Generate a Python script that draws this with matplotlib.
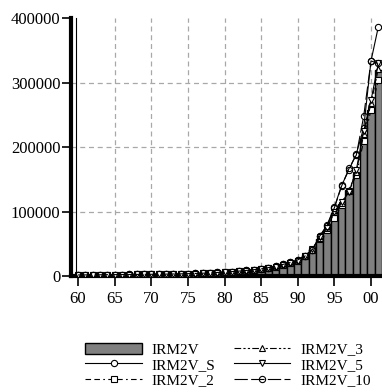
import matplotlib
matplotlib.use('Agg')
import matplotlib.pyplot as plt
import numpy as np

plt.rcParams['font.family'] = ['Liberation Serif', 'DejaVu Serif']

#%% Data
years = list(range(1960, 2002))

irm2v = [1500, 1600, 1700, 1800, 1900, 2000, 2100, 2200, 2300, 2400,
         2500, 2600, 2800, 3000, 3200, 3500, 3800, 4200, 4700, 5200,
         5800, 6500, 7300, 8200, 9200, 10500, 12000, 14000, 16500, 19500,
         22000, 30000, 40000, 57000, 70000, 98000, 112000, 134000, 158000, 212000,
         258000, 320000]
irm2v_s = [1600, 1700, 1800, 1900, 2000, 2100, 2200, 2300, 2400, 2500,
           2600, 2700, 2900, 3100, 3300, 3600, 3900, 4300, 4800, 5400,
           6000, 6800, 7600, 8600, 9800, 11000, 13000, 15000, 18000, 21000,
           25000, 31000, 41000, 62000, 79000, 107000, 141000, 165000, 190000, 230000,
           334000, 387000]
irm2v_2 = [1500, 1600, 1700, 1800, 1900, 2000, 2100, 2200, 2300, 2400,
           2500, 2600, 2800, 3000, 3200, 3500, 3800, 4200, 4700, 5200,
           5800, 6500, 7300, 8200, 9200, 10500, 12000, 14000, 16500, 19500,
           22500, 30500, 40500, 58000, 72000, 90000, 110000, 132000, 157000, 210000,
           258000, 304000]
irm2v_3 = [1500, 1600, 1700, 1800, 1900, 2000, 2100, 2200, 2300, 2400,
           2500, 2600, 2800, 3000, 3200, 3500, 3800, 4200, 4700, 5200,
           5800, 6500, 7300, 8200, 9300, 10600, 12200, 14300, 17000, 20000,
           23000, 31000, 41000, 59000, 74000, 99000, 114000, 133000, 162000, 220000,
           268000, 322000]
irm2v_5 = [1500, 1600, 1700, 1800, 1900, 2000, 2100, 2200, 2300, 2400,
           2500, 2600, 2800, 3000, 3200, 3500, 3800, 4200, 4700, 5200,
           5900, 6600, 7400, 8400, 9500, 10800, 12500, 14700, 17500, 20500,
           23500, 31500, 41500, 60000, 75000, 100000, 115000, 130000, 165000, 225000,
           273000, 330000]
irm2v_10 = [1600, 1700, 1800, 1900, 2000, 2100, 2200, 2300, 2400, 2500,
            2600, 2700, 2900, 3100, 3300, 3600, 3900, 4300, 4800, 5400,
            6000, 6800, 7600, 8600, 9800, 11000, 13000, 15000, 18000, 21000,
            25000, 31000, 41000, 62000, 78000, 106000, 140000, 167000, 188000, 248000,
            334000, 330000]

xtick_years = list(range(1960, 2001, 5))
xtick_labels = ['%02d' % (y % 100) for y in xtick_years]
ytick_values = [0, 100000, 200000, 300000, 400000]

#%% Plot
fig = plt.figure(figsize=(3.82, 3.92), dpi=100)
ax = fig.add_axes([0.187, 0.296, 0.813, 0.657])

bars = ax.bar(years, irm2v, width=1.0, color='#808080', edgecolor='black',
              linewidth=1.0, label='IRM2V', zorder=2)

line_kw = dict(color='black', linewidth=0.8, markersize=4.5,
               markeredgewidth=0.8, zorder=3)
l_s, = ax.plot(years, irm2v_s, '-', marker='o', markerfacecolor='white',
               label='IRM2V_S', **line_kw)
l_2, = ax.plot(years, irm2v_2, dashes=(5, 3, 5, 3, 1.5, 3), marker='s',
               markerfacecolor='white', label='IRM2V_2', **line_kw)
l_3, = ax.plot(years, irm2v_3, dashes=(6, 2, 2, 2, 2, 2), marker='^',
               markerfacecolor='white', label='IRM2V_3', **line_kw)
l_5, = ax.plot(years, irm2v_5, '-', marker='v', markerfacecolor='white',
               label='IRM2V_5', **line_kw)
l_10, = ax.plot(years, irm2v_10, dashes=(12, 3), marker='o',
                markerfacecolor='none', label='IRM2V_10', **line_kw)

ax.set_xlim(1959.1, 2001.5)
ax.set_ylim(0, 400000)
ax.set_xticks(xtick_years)
ax.set_xticklabels(xtick_labels)
ax.set_yticks(ytick_values)
ax.set_yticklabels([str(v) for v in ytick_values])
ax.tick_params(axis='both', labelsize=12, direction='out', width=1.2)
ax.tick_params(axis='x', length=7, pad=3.5)
ax.tick_params(axis='y', length=6.5, pad=1.5)

ax.grid(True, color='#a8a8a8', linestyle=(0, (4, 3)), linewidth=0.9, zorder=0)
ax.set_axisbelow(True)
# no grid line on the first x tick nor on the top y tick
ax.xaxis.get_gridlines()[0].set_visible(False)
ax.yaxis.get_gridlines()[-1].set_visible(False)

for side in ['top', 'right']:
    ax.spines[side].set_visible(False)
ax.spines['left'].set_linewidth(3)
ax.spines['bottom'].set_linewidth(3)
# thin second frame line next to the y axis
ax.plot([0.0145, 0.0145], [0, 1], transform=ax.transAxes, color='black',
        linewidth=0.8, clip_on=False, zorder=4)

handles = [bars, l_s, l_2, l_3, l_5, l_10]
labels = ['IRM2V', 'IRM2V_S', 'IRM2V_2', 'IRM2V_3', 'IRM2V_5', 'IRM2V_10']
fig.legend(handles, labels, loc='center', bbox_to_anchor=(0.597, 0.069),
           ncol=2, frameon=False, fontsize=11, handlelength=3.7,
           handletextpad=0.65, columnspacing=1.2, labelspacing=0.1, borderpad=0)

fig.savefig('out.png', dpi=100)
